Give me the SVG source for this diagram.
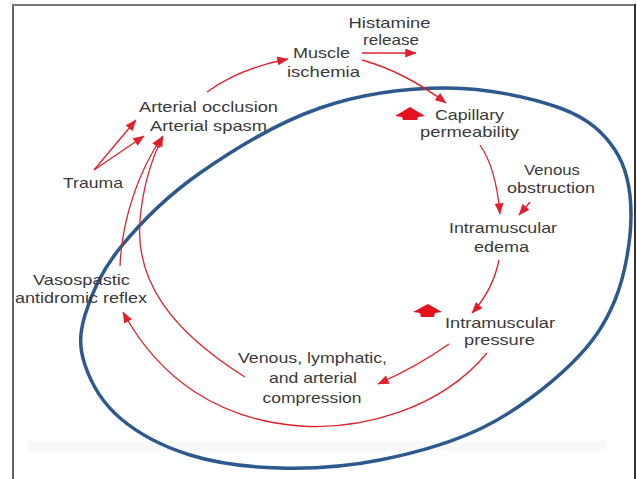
<svg xmlns="http://www.w3.org/2000/svg" width="637" height="479" viewBox="0 0 637 479">
<defs>
<style>
.t{font-family:"Liberation Sans",Arial,sans-serif;font-size:15px;fill:#3a3a3a;text-anchor:middle}
.c{fill:none;stroke:#e0202a;stroke-width:1.3}
.inc{fill:#e3131e}
</style>
<marker id="ah" viewBox="0 0 10 8" refX="9.5" refY="4" markerWidth="12" markerHeight="9" markerUnits="userSpaceOnUse" orient="auto">
<path d="M0,0 L10,4 L0,8 z" fill="#e0202a"/>
</marker>
</defs>
<rect x="0" y="0" width="637" height="479" fill="#fff"/>
<rect x="28" y="441" width="579" height="10" fill="#f8f8f8"/>
<g id="frame" fill="none">
<line x1="13" y1="5" x2="13" y2="479" stroke="#666" stroke-width="2"/>
<line x1="12" y1="5" x2="636" y2="5" stroke="#777" stroke-width="2"/>
<line x1="635" y1="4" x2="635" y2="479" stroke="#333" stroke-width="2"/>
</g>
<g id="cycle-ellipse">
<path d="M447,88 C487,88 532,97.7 560,108 C588,118.3 603.2,132.2 615,150 C626.8,167.8 631,190 631,215 C631,240 625.2,275 615,300 C604.8,325 591.8,343.8 570,365 C548.2,386.2 515.7,411.2 484,427 C452.3,442.8 414,453.2 380,460 C346,466.8 311.7,468.8 280,468 C248.3,467.2 216.7,463.3 190,455 C163.3,446.7 137.5,433 120,418 C102.5,403 90.8,382.2 85,365 C79.2,347.8 79.2,334.5 85,315 C90.8,295.5 100.8,271.7 120,248 C139.2,224.3 166.7,196.3 200,173 C233.3,149.7 278.8,122.2 320,108 C361.2,93.8 407,88 447,88 Z" fill="none" stroke="#2d5a8e" stroke-width="3.5"/>
</g>
<g id="connectors">
<path class="c" d="M207,92 Q240,68 288,59" marker-end="url(#ah)"/>
<path class="c" d="M362,53 L416,53" marker-end="url(#ah)"/>
<path class="c" d="M362,60 Q405,72 446,103" marker-end="url(#ah)"/>
<path class="c" d="M480,145 Q496,168 500,214" marker-end="url(#ah)"/>
<path class="c" d="M530,202 L519,215" marker-end="url(#ah)"/>
<path class="c" d="M499,260 Q493,290 472,313" marker-end="url(#ah)"/>
<path class="c" d="M449,344 Q418,366 378,384" marker-end="url(#ah)"/>
<path class="c" d="M487,353 C440,410 360,430 300,426 C220,420 160,380 123,312" marker-end="url(#ah)"/>
<path class="c" d="M245,377 C170,330 135,280 140,220 C143,185 152,158 163,136" marker-end="url(#ah)"/>
<path class="c" d="M120,266 C122,220 138,172 162,137" marker-end="url(#ah)"/>
<path class="c" d="M94,170 L136,120" marker-end="url(#ah)"/>
<path class="c" d="M94,170 L144,136" marker-end="url(#ah)"/>
</g>
<g id="histamine-release"><text class="t" x="389.5" y="28" textLength="82" lengthAdjust="spacingAndGlyphs">Histamine</text><text class="t" x="391" y="45" textLength="56" lengthAdjust="spacingAndGlyphs">release</text></g>
<g id="muscle-ischemia"><text class="t" x="321.5" y="58" textLength="57" lengthAdjust="spacingAndGlyphs">Muscle</text><text class="t" x="323.5" y="77" textLength="73" lengthAdjust="spacingAndGlyphs">ischemia</text></g>
<g id="arterial"><text class="t" x="208.5" y="112" textLength="139" lengthAdjust="spacingAndGlyphs">Arterial occlusion</text><text class="t" x="208.5" y="131" textLength="117" lengthAdjust="spacingAndGlyphs">Arterial spasm</text></g>
<g id="trauma"><text class="t" x="93" y="188" textLength="60" lengthAdjust="spacingAndGlyphs">Trauma</text></g>
<g id="capillary-permeability">
<polygon class="inc" points="410,107 425,116 418,117 417,120 403,120 402,117 395,116"/>
<text class="t" x="469.5" y="120" textLength="69" lengthAdjust="spacingAndGlyphs">Capillary</text><text class="t" x="469.5" y="137" textLength="99" lengthAdjust="spacingAndGlyphs">permeability</text></g>
<g id="venous-obstruction"><text class="t" x="552" y="175" textLength="56" lengthAdjust="spacingAndGlyphs">Venous</text><text class="t" x="551" y="193" textLength="88" lengthAdjust="spacingAndGlyphs">obstruction</text></g>
<g id="intramuscular-edema"><text class="t" x="503" y="233" textLength="108" lengthAdjust="spacingAndGlyphs">Intramuscular</text><text class="t" x="501.5" y="252" textLength="55" lengthAdjust="spacingAndGlyphs">edema</text></g>
<g id="intramuscular-pressure">
<polygon class="inc" points="428,304 442,312 435,313 434,317 421,317 420,313 413,312"/>
<text class="t" x="500" y="328" textLength="110" lengthAdjust="spacingAndGlyphs">Intramuscular</text><text class="t" x="499.5" y="345" textLength="71" lengthAdjust="spacingAndGlyphs">pressure</text></g>
<g id="vasospastic-reflex"><text class="t" x="81.5" y="285" textLength="97" lengthAdjust="spacingAndGlyphs">Vasospastic</text><text class="t" x="81" y="303" textLength="132" lengthAdjust="spacingAndGlyphs">antidromic reflex</text></g>
<g id="compression"><text class="t" x="312.5" y="363" textLength="149" lengthAdjust="spacingAndGlyphs">Venous, lymphatic,</text><text class="t" x="313" y="383" textLength="88" lengthAdjust="spacingAndGlyphs">and arterial</text><text class="t" x="312" y="403" textLength="99" lengthAdjust="spacingAndGlyphs">compression</text></g>
</svg>
